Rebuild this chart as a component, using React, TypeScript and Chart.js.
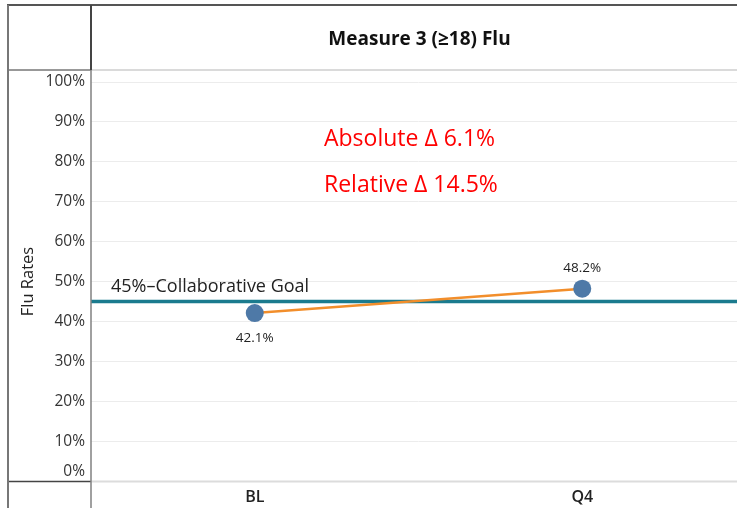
import React, { useEffect, useRef } from "react";
import { Chart, registerables } from "chart.js";

Chart.register(...registerables);

const categories = ["BL", "Q4"];
const fluRates = [42.1, 48.2];
const dataLabels = ["42.1%", "48.2%"];
const goalValue = 45;
const goalLabel = "45%\u2013Collaborative Goal";
const chartTitle = "Measure 3 (\u226518) Flu";
const yAxisTitle = "Flu Rates";
const annotations = ["Absolute \u0394 6.1%", "Relative \u0394 14.5%"];

const FONT = "'Open Sans', Lato, sans-serif";

const framePlugin = {
  id: "frame",
  beforeDatasetsDraw(chart: any) {
    const { ctx, chartArea, scales } = chart;
    const y = scales.y.getPixelForValue(goalValue);
    ctx.save();
    ctx.strokeStyle = "#1b7b8e";
    ctx.lineWidth = 3.5;
    ctx.beginPath();
    ctx.moveTo(chartArea.left, y);
    ctx.lineTo(chartArea.right + 20, y);
    ctx.stroke();
    ctx.restore();
  },
  afterDraw(chart: any) {
    const { ctx, chartArea, scales, width, height } = chart;
    ctx.save();
    const line = (x1: number, y1: number, x2: number, y2: number, c: string, w: number) => {
      ctx.strokeStyle = c;
      ctx.lineWidth = w;
      ctx.beginPath();
      ctx.moveTo(x1, y1);
      ctx.lineTo(x2, y2);
      ctx.stroke();
    };
    const div = chartArea.left;
    const bottom = chartArea.bottom;
    // header bottom
    line(div, 70, width, 70, "#dadada", 2);
    line(8, 70, div, 70, "#333", 1);
    // bottom line
    line(div, bottom + 0.5, width, bottom + 0.5, "#dcdcdc", 2);
    line(8, bottom + 0.5, div, bottom + 0.5, "#444", 1.5);
    // top & left border
    line(7, 5, width, 5, "#555", 2);
    line(8, 5, 8, height, "#777", 2);
    // divider
    line(div, 5, div, 70, "#444", 2);
    line(div, 70, div, height, "#808080", 1.5);

    // title
    ctx.fillStyle = "#111";
    ctx.font = `bold 19px ${FONT}`;
    ctx.textAlign = "center";
    ctx.textBaseline = "middle";
    ctx.fillText(chartTitle, (chartArea.left + chartArea.right) / 2 + 1, 40);

    // 0% label (shifted up like reference)
    ctx.fillStyle = "#333";
    ctx.font = `15.5px ${FONT}`;
    ctx.textAlign = "right";
    ctx.fillText("0%", div - 6, 472);

    // annotations
    ctx.fillStyle = "#ff0000";
    ctx.font = `23px ${FONT}`;
    ctx.textAlign = "left";
    ctx.fillText(annotations[0], 324, 139);
    ctx.fillText(annotations[1], 324, 185);

    // goal label
    const gy = scales.y.getPixelForValue(goalValue);
    ctx.fillStyle = "#222";
    ctx.font = `18px ${FONT}`;
    ctx.fillText(goalLabel, 111, gy - 15);

    // data labels
    const meta = chart.getDatasetMeta(0);
    ctx.font = `13.5px ${FONT}`;
    ctx.textAlign = "center";
    ctx.fillStyle = "#222";
    meta.data.forEach((pt: any, i: number) => {
      const below = i === 0;
      ctx.fillText(dataLabels[i], pt.x, below ? pt.y + 25 : pt.y - 21);
    });
    ctx.restore();
  },
};

export default function App() {
  const ref = useRef<HTMLCanvasElement>(null);
  useEffect(() => {
    if (!ref.current) return;
    const chart = new Chart(ref.current, {
      type: "line",
      data: {
        labels: categories,
        datasets: [
          {
            data: fluRates,
            borderColor: "#f28e2b",
            borderWidth: 2.5,
            pointRadius: 9,
            pointHoverRadius: 9,
            pointBackgroundColor: "#4e79a7",
            pointBorderWidth: 0,
            fill: false,
          },
        ],
      },
      options: {
        responsive: false,
        animation: false,
        layout: { padding: { left: 0, right: 14, top: 82, bottom: 0 } },
        plugins: { legend: { display: false }, tooltip: { enabled: false } },
        scales: {
          x: {
            offset: true,
            grid: { display: false, drawTicks: false },
            border: { display: false },
            ticks: { font: { family: FONT, size: 16, weight: "600" }, color: "#222", padding: 7 },
            afterFit: (s: any) => {
              s.height = 27;
            },
          },
          y: {
            min: 0,
            max: 100,
            ticks: {
              stepSize: 10,
              padding: 6,
              color: "#333",
              font: { family: FONT, size: 15.5 },
              callback: (v: any) => (v === 0 ? "" : v + "%"),
            },
            grid: { color: "#ececec", drawTicks: false, lineWidth: 1 },
            border: { display: false },
            title: {
              display: true,
              text: yAxisTitle,
              color: "#222",
              font: { family: FONT, size: 16.5 },
              padding: { top: 18, bottom: 0 },
            },
            afterFit: (s: any) => {
              s.width = 91;
            },
          },
        },
      },
      plugins: [framePlugin],
    });
    return () => chart.destroy();
  }, []);
  return (
    <div style={{ position: "absolute", left: 0, top: 0, width: 737, height: 508, overflow: "hidden", background: "#fff" }}>
      <canvas ref={ref} width={760} height={508} style={{ display: "block" }} />
    </div>
  );
}
